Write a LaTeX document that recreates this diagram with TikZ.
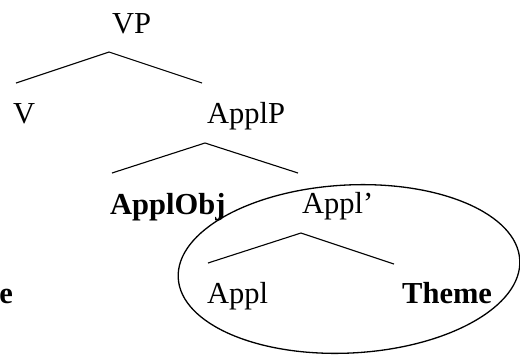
\documentclass[tikz,border=0pt]{standalone}
\usepackage{fontspec}
\setmainfont{Liberation Serif}
\begin{document}
\begin{tikzpicture}[x=1pt,y=-1pt,
    lbl/.style={anchor=base west,inner sep=0pt,font=\fontsize{30.5}{36}\selectfont},
    blbl/.style={lbl,font=\fontsize{30.5}{36}\selectfont\bfseries},
    branch/.style={line width=1.1pt},
    ring/.style={line width=1.3pt}]
  \useasboundingbox (0,0) rectangle (520,354);
  % labels
  \node[lbl]  (vp)      at (112,33)  {VP};
  \node[lbl]  (v)       at (13,123)  {V};
  \node[lbl]  (applp)   at (207,123) {ApplP};
  \node[blbl] (applobj) at (110,214) {ApplObj};
  \node[lbl]  (applbar) at (302,213) {Appl’};
  \node[lbl]  (appl)    at (207,303) {Appl};
  \node[blbl] (theme)   at (402,303) {Theme};
  \node[blbl,anchor=base east] (cut) at (13,303) {e};
  % branch points
  \coordinate (vp-top)    at (109,52);
  \coordinate (vp-l)      at (16,83);
  \coordinate (vp-r)      at (202,83);
  \coordinate (applp-top) at (205,143);
  \coordinate (applp-l)   at (112,173);
  \coordinate (applp-r)   at (298,173);
  \coordinate (bar-top)   at (301,233);
  \coordinate (bar-l)     at (208,263);
  \coordinate (bar-r)     at (394,264);
  % branches
  \draw[branch] (vp-l) -- (vp-top) -- (vp-r);
  \draw[branch] (applp-l) -- (applp-top) -- (applp-r);
  \draw[branch] (bar-l) -- (bar-top) -- (bar-r);
  % ring round Appl'
  \draw[ring,rotate around={3:(349,269)}] (349,269) ellipse [x radius=171pt, y radius=84pt];
\end{tikzpicture}
\end{document}
